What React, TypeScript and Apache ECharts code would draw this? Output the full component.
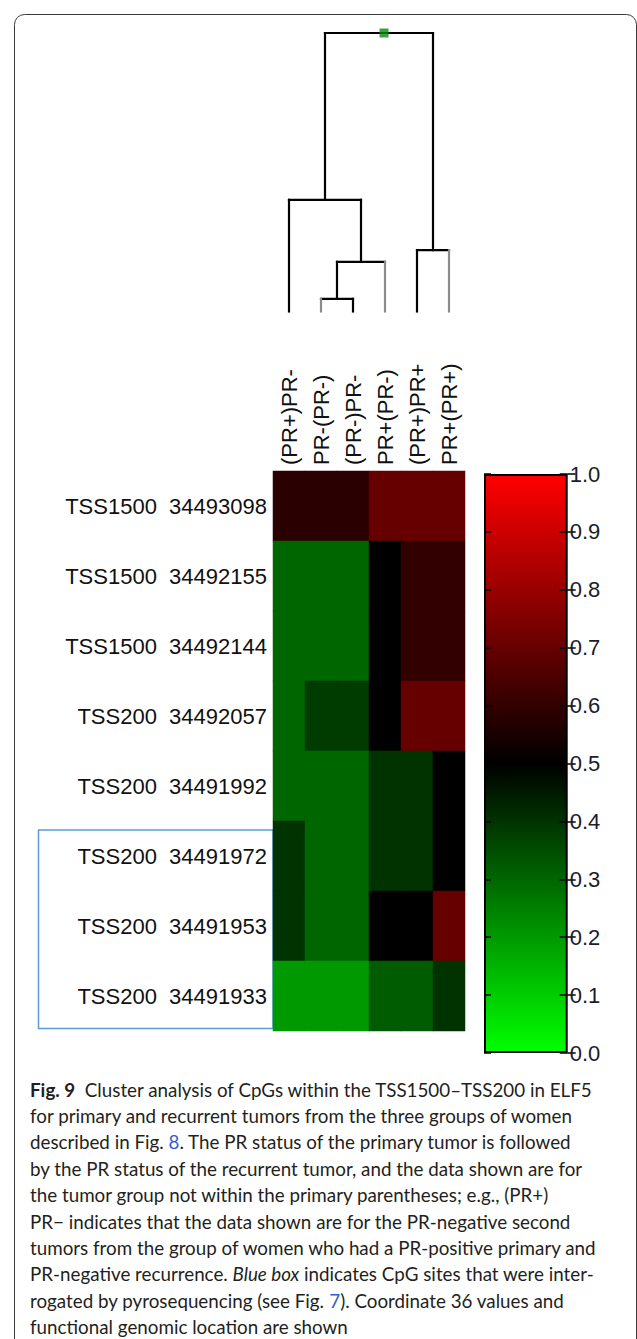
import React, { useEffect, useRef } from "react";
import * as echarts from "echarts";

// ---- data ----
const columns = ["(PR+)PR-", "PR-(PR-)", "(PR-)PR-", "PR+(PR-)", "(PR+)PR+", "PR+(PR+)"];
const regions = ["TSS1500", "TSS1500", "TSS1500", "TSS200", "TSS200", "TSS200", "TSS200", "TSS200"];
const coordinates = ["34493098", "34492155", "34492144", "34492057", "34491992", "34491972", "34491953", "34491933"];

const row34493098 = [0.585, 0.585, 0.585, 0.70, 0.70, 0.70];
const row34492155 = [0.30, 0.30, 0.30, 0.50, 0.60, 0.60];
const row34492144 = [0.30, 0.30, 0.30, 0.50, 0.60, 0.60];
const row34492057 = [0.30, 0.385, 0.385, 0.50, 0.70, 0.70];
const row34491992 = [0.30, 0.30, 0.30, 0.40, 0.40, 0.50];
const row34491972 = [0.40, 0.30, 0.30, 0.40, 0.40, 0.50];
const row34491953 = [0.40, 0.30, 0.30, 0.50, 0.50, 0.70];
const row34491933 = [0.20, 0.20, 0.20, 0.32, 0.32, 0.40];
const values = [row34493098, row34492155, row34492144, row34492057, row34491992, row34491972, row34491953, row34491933];

// dendrogram linkage (nodes 0..5 are leaves, new nodes numbered from 6)
const mergeLeft = [1, 6, 0, 4, 8];
const mergeRight = [2, 3, 7, 5, 9];
const mergeHeight = [0.046, 0.179, 0.401, 0.221, 1.0];
const rootMarkerX = 2.97;

// colour scale
const scaleMin = 0;
const scaleMax = 1;
const scaleStep = 0.1;
const scaleColors = ["#00ff00", "#000000", "#ff0000"];

const captionLines = [
  "{b|Fig. 9}  Cluster analysis of CpGs within the TSS1500–TSS200 in ELF5",
  "for primary and recurrent tumors from the three groups of women",
  "described in Fig. {l|8}. The PR status of the primary tumor is followed",
  "by the PR status of the recurrent tumor, and the data shown are for",
  "the tumor group not within the primary parentheses; e.g., (PR+)",
  "PR− indicates that the data shown are for the PR-negative second",
  "tumors from the group of women who had a PR-positive primary and",
  "PR-negative recurrence. {i|Blue box} indicates CpG sites that were inter-",
  "rogated by pyrosequencing (see Fig. {l|7}). Coordinate 36 values and",
  "functional genomic location are shown",
];

// ---- styles ----
const leafColors = ["#000000", "#8c8c8c", "#000000", "#8c8c8c", "#000000", "#8c8c8c"];
const labelFont = "'Liberation Sans', Arial, sans-serif";
const captionFont = "Lato, 'Open Sans', sans-serif";
const captionSize = 18.8;

export default function App() {
  const ref = useRef<HTMLDivElement>(null);

  useEffect(() => {
    if (!ref.current) return;
    const chart = echarts.init(ref.current, null, { renderer: "svg" });

    const rowLabels = regions.map((r, i) => r + "  " + coordinates[i]);
    const heatData: number[][] = [];
    values.forEach((row, ri) => row.forEach((v, ci) => heatData.push([ci, ri, v])));

    const n = columns.length;
    const nodeX: number[] = columns.map((_, i) => i);
    const nodeH: number[] = columns.map(() => 0);
    const segs: any[] = [];
    mergeLeft.forEach((a, k) => {
      const b = mergeRight[k];
      const h = mergeHeight[k];
      const xa = nodeX[a];
      const xb = nodeX[b];
      segs.push({ coords: [[xa, h], [xb, h]], lineStyle: { color: "#000" } });
      segs.push({ coords: [[xa, nodeH[a]], [xa, h]], lineStyle: { color: a < n ? leafColors[a] : "#000" } });
      segs.push({ coords: [[xb, nodeH[b]], [xb, h]], lineStyle: { color: b < n ? leafColors[b] : "#000" } });
      nodeX.push((xa + xb) / 2);
      nodeH.push(h);
    });

    const captionStart = 1089;
    const captionStep = 26.4;
    const captionGraphics = captionLines.map((t, i) => ({
      type: "text",
      x: 30,
      y: captionStart + i * captionStep,
      silent: true,
      style: {
        text: t,
        fill: "#231f20",
        fontSize: captionSize,
        fontFamily: captionFont,
        verticalAlign: "middle",
        rich: {
          b: { fontWeight: "bold", fontSize: captionSize, fontFamily: captionFont, fill: "#231f20" },
          i: { fontStyle: "italic", fontSize: captionSize, fontFamily: captionFont, fill: "#231f20" },
          l: { fontSize: captionSize, fontFamily: captionFont, fill: "#2f5fcc" },
        },
      },
    }));

    const option: any = {
      animation: false,
      backgroundColor: "#ffffff",
      grid: [
        { left: 273, top: 471, width: 192, height: 560 },
        { left: 273, top: 33, width: 192, height: 278.7 },
        { left: 484, top: 474, width: 83.7, height: 579 },
      ],
      xAxis: [
        {
          gridIndex: 0,
          type: "category",
          data: columns,
          position: "top",
          axisLine: { show: false },
          axisTick: { show: false },
          splitLine: { show: false },
          axisLabel: { rotate: -90, margin: 6, fontSize: 22, fontFamily: labelFont, color: "#111" },
        },
        { gridIndex: 1, type: "value", min: -0.5, max: n - 0.5, show: false },
        { gridIndex: 2, type: "category", data: [""], show: false },
      ],
      yAxis: [
        {
          gridIndex: 0,
          type: "category",
          data: rowLabels,
          inverse: true,
          axisLine: { show: false },
          axisTick: { show: false },
          splitLine: { show: false },
          axisLabel: { margin: 6, fontSize: 22, fontFamily: labelFont, color: "#111" },
        },
        { gridIndex: 1, type: "value", min: 0, max: 1, show: false },
        {
          gridIndex: 2,
          type: "value",
          min: scaleMin,
          max: scaleMax,
          interval: scaleStep,
          position: "right",
          z: 5,
          axisLine: { show: false },
          splitLine: { show: false },
          axisTick: { show: true, length: 8, lineStyle: { color: "#000", width: 1.5 } },
          axisLabel: {
            margin: 2,
            fontSize: 22,
            fontFamily: labelFont,
            color: "#1c1c2c",
            formatter: (v: number) => v.toFixed(1),
          },
        },
        {
          gridIndex: 2,
          type: "value",
          min: scaleMin,
          max: scaleMax,
          interval: scaleStep,
          position: "right",
          z: 5,
          axisLine: { show: false },
          splitLine: { show: false },
          axisTick: { show: true, inside: true, length: 8, lineStyle: { color: "#000", width: 1.5 } },
          axisLabel: { show: false },
        },
        {
          gridIndex: 2,
          type: "value",
          min: scaleMin,
          max: scaleMax,
          interval: scaleStep,
          position: "left",
          z: 5,
          axisLine: { show: false },
          splitLine: { show: false },
          axisTick: { show: true, inside: true, length: 7, lineStyle: { color: "#000", width: 1.5 } },
          axisLabel: { show: false },
        },
      ],
      visualMap: {
        show: false,
        type: "continuous",
        min: scaleMin,
        max: scaleMax,
        seriesIndex: 0,
        inRange: { color: scaleColors },
      },
      series: [
        {
          type: "heatmap",
          xAxisIndex: 0,
          yAxisIndex: 0,
          data: heatData,
          itemStyle: { borderWidth: 0 },
          silent: true,
        },
        {
          type: "lines",
          coordinateSystem: "cartesian2d",
          xAxisIndex: 1,
          yAxisIndex: 1,
          polyline: true,
          silent: true,
          lineStyle: { width: 2.2, cap: "square", opacity: 1 },
          data: segs,
        },
        {
          type: "scatter",
          xAxisIndex: 1,
          yAxisIndex: 1,
          symbol: "rect",
          symbolSize: 9,
          z: 5,
          silent: true,
          itemStyle: { color: "#0d8a0d" },
          data: [[rootMarkerX, mergeHeight[mergeHeight.length - 1]]],
        },
        {
          type: "bar",
          xAxisIndex: 2,
          yAxisIndex: 2,
          barWidth: "100%",
          silent: true,
          data: [scaleMax],
          itemStyle: {
            borderColor: "#000",
            borderWidth: 2,
            color: new echarts.graphic.LinearGradient(0, 0, 0, 1, [
              { offset: 0, color: scaleColors[2] },
              { offset: 0.5, color: scaleColors[1] },
              { offset: 1, color: scaleColors[0] },
            ]),
          },
        },
      ],
      graphic: [
        {
          type: "rect",
          shape: { x: 14.5, y: 14.5, width: 622, height: 1400, r: 10 },
          style: { fill: "none", stroke: "#3a3a3a", lineWidth: 1 },
          silent: true,
        },
        {
          type: "rect",
          shape: { x: 38.5, y: 830, width: 234.5, height: 198.5 },
          style: { fill: "none", stroke: "#5b9bd5", lineWidth: 1.5 },
          silent: true,
        },
        ...captionGraphics,
      ],
    };

    chart.setOption(option);
    return () => chart.dispose();
  }, []);

  return (
    <div
      ref={ref}
      style={{ position: "absolute", left: 0, top: 0, width: 637, height: 1339, background: "#fff" }}
    />
  );
}
